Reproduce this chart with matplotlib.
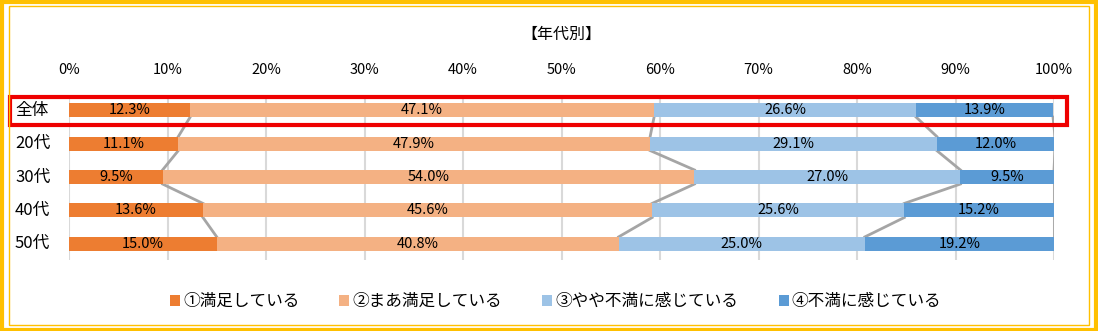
import matplotlib
matplotlib.use("Agg")
from matplotlib import pyplot as plt
from matplotlib.patches import Rectangle
from matplotlib.ticker import PercentFormatter

plt.rcParams['font.family'] = ['Noto Sans CJK JP', 'DejaVu Sans']

groups = ["全体", "20代", "30代", "40代", "50代"]
series = ["①満足している", "②まあ満足している", "③やや不満に感じている", "④不満に感じている"]
values = [
    [12.3, 11.1, 9.5, 13.6, 15.0],
    [47.1, 47.9, 54.0, 45.6, 40.8],
    [26.6, 29.1, 27.0, 25.6, 25.0],
    [13.9, 12.0, 9.5, 15.2, 19.2],
]
colors = ["#ED7D31", "#F4B183", "#9DC3E6", "#5B9BD5"]

W, H = 1098, 331
fig = plt.figure(figsize=(W / 100, H / 100), dpi=100)
ax = fig.add_axes([69 / W, (H - 260) / H, (1054 - 69) / W, 165 / H])

ypos = list(range(len(groups)))
bh = 0.42
left = [0.0] * len(groups)
cum = []
for vals, col, name in zip(values, colors, series):
    ax.barh(ypos, vals, left=left, height=bh, color=col, label=name, zorder=3)
    for y, l, v in zip(ypos, left, vals):
        ax.text(l + v / 2, y, f"{v:.1f}%", ha='center', va='center', fontsize=10.5, zorder=4)
    left = [l + v for l, v in zip(left, vals)]
    cum.append(list(left))

# series lines between bars
for c in cum:
    for i in range(len(groups) - 1):
        ax.plot([c[i], c[i + 1]], [i + bh / 2, i + 1 - bh / 2], color="#A5A5A5", lw=2, zorder=2)

ax.set_xlim(0, 100)
ax.set_ylim(4.48, -0.45)
ax.set_xticks(range(0, 101, 10))
ax.xaxis.set_major_formatter(PercentFormatter(decimals=0))
ax.xaxis.tick_top()
ax.tick_params(axis='x', length=0, labelsize=10.5, pad=13)
ax.set_yticks([])
ax.grid(axis='x', color="#D9D9D9", lw=1.5, zorder=0)
for s in ax.spines.values():
    s.set_visible(False)

for y, g in zip(ypos, groups):
    ax.text(-54 / (1054 - 69) * 100, y, g, ha='left', va='center', fontsize=12)

ax.set_title("【年代別】", fontsize=11.5, pad=40)

# red box around 全体
fig.add_artist(Rectangle((10 / W, (H - 125) / H), 1057 / W, 28 / H, transform=fig.transFigure,
                         fill=False, edgecolor="#EE0000", lw=3))

ax.legend(loc='upper center', bbox_to_anchor=(0.494, -0.11), ncol=4, frameon=False,
          fontsize=12, handlelength=0.6, handleheight=0.6, handletextpad=0.2, columnspacing=2.4)

# yellow frame
fig.add_artist(Rectangle((0.002, 0.004), 0.996, 0.99, transform=fig.transFigure,
                         fill=False, edgecolor="#FFC000", lw=3))
fig.add_artist(Rectangle((0.008, 0.018), 0.984, 0.965, transform=fig.transFigure,
                         fill=False, edgecolor="#FFC000", lw=1))

fig.savefig("out.png", dpi=100)
